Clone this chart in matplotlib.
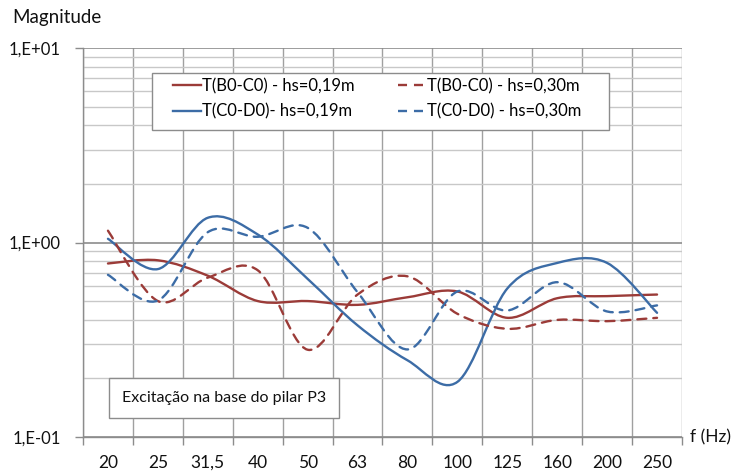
import numpy as np
import matplotlib
matplotlib.use("Agg")
import matplotlib.pyplot as plt
from matplotlib.path import Path
from matplotlib.patches import PathPatch, Rectangle
from matplotlib.lines import Line2D
from matplotlib.ticker import FixedLocator, NullFormatter

plt.rcParams['font.family'] = ['Lato', 'DejaVu Sans']
plt.rcParams['lines.scale_dashes'] = False

# frequency bands (categories on the x axis)
freqs = ['20', '25', '31,5', '40', '50', '63', '80', '100', '125', '160', '200', '250']

# values
b0c0_019 = [0.78, 0.81, 0.675, 0.50, 0.50, 0.478, 0.523, 0.56, 0.41, 0.517, 0.53, 0.54]
b0c0_030 = [1.15, 0.50, 0.66, 0.72, 0.281, 0.54, 0.67, 0.43, 0.36, 0.40, 0.394, 0.41]
c0d0_019 = [1.045, 0.73, 1.34, 1.10, 0.65, 0.375, 0.248, 0.192, 0.58, 0.785, 0.785, 0.435]
c0d0_030 = [0.682, 0.503, 1.13, 1.07, 1.19, 0.555, 0.282, 0.56, 0.447, 0.625, 0.442, 0.475]

RED = '#9B3B38'
BLUE = '#3C6CA6'
DASH = (0, (6.5, 5))
W, H = 733, 475


def smooth_path(xs, ys):
    # Excel-like smoothed line: cubic Bezier through the points, built in log space
    x = np.asarray(xs, float)
    ly = np.log10(np.asarray(ys, float))
    n = len(x)
    verts = [(x[0], ys[0])]
    codes = [Path.MOVETO]
    for i in range(n - 1):
        x0, y0 = x[max(i - 1, 0)], ly[max(i - 1, 0)]
        x3, y3 = x[min(i + 2, n - 1)], ly[min(i + 2, n - 1)]
        c1 = (x[i] + (x[i + 1] - x0) / 6, ly[i] + (ly[i + 1] - y0) / 6)
        c2 = (x[i + 1] - (x3 - x[i]) / 6, ly[i + 1] - (y3 - ly[i]) / 6)
        verts += [(c1[0], 10 ** c1[1]), (c2[0], 10 ** c2[1]), (x[i + 1], ys[i + 1])]
        codes += [Path.CURVE4] * 3
    return Path(verts, codes)


fig = plt.figure(figsize=(W / 100, H / 100), dpi=100)
ax_l, ax_r, ax_t, ax_b = 83, 682, 48, 437
fig.subplots_adjust(left=ax_l / W, right=ax_r / W, bottom=1 - ax_b / H, top=1 - ax_t / H)
ax = fig.add_subplot(111)


def axfrac(px, py):
    # pixel position in the figure -> axes fraction
    return (px - ax_l) / (ax_r - ax_l), (ax_b - py) / (ax_b - ax_t)


pos = np.arange(len(freqs))
series = [
    (b0c0_019, RED, '-', 'T(B0-C0) - hs=0,19m'),
    (c0d0_019, BLUE, '-', 'T(C0-D0)- hs=0,19m'),
    (b0c0_030, RED, DASH, 'T(B0-C0) - hs=0,30m'),
    (c0d0_030, BLUE, DASH, 'T(C0-D0) - hs=0,30m'),
]

ax.set_yscale('log')
ax.set_xlim(-0.5, len(freqs) - 0.5)
ax.set_ylim(0.1, 10)

handles = []
for vals, col, ls, lab in series:
    patch = PathPatch(smooth_path(pos, vals), facecolor='none', edgecolor=col,
                      lw=1.7, linestyle=ls, capstyle='round', zorder=3)
    ax.add_patch(patch)
    handles.append(Line2D([], [], color=col, lw=1.7, linestyle=ls, label=lab))

# axes, ticks and grid
ax.set_xticks(pos)
ax.set_xticklabels(freqs)
ax.xaxis.set_minor_locator(FixedLocator(np.arange(-0.5, len(freqs), 1)))
ax.tick_params(axis='x', which='major', length=0, pad=13, labelsize=12.5, labelcolor='#111111')
ax.tick_params(axis='x', which='minor', length=6, width=1, color='#8c8c8c')
ax.grid(True, axis='x', which='minor', color='#a0a0a0', lw=1)

ax.set_yticks([0.1, 1, 10])
ax.set_yticklabels(['1,E-01', '1,E+00', '1,E+01'])
ax.yaxis.set_minor_formatter(NullFormatter())
ax.tick_params(axis='y', which='major', length=6, width=1, color='#8c8c8c', pad=10,
               labelsize=12, labelcolor='#111111')
ax.tick_params(axis='y', which='minor', length=0)
ax.grid(True, axis='y', which='major', color='#8c8c8c', lw=1.2)
ax.grid(True, axis='y', which='minor', color='#c8c8c8', lw=1)
ax.set_axisbelow(True)

for side in ['top', 'right']:
    ax.spines[side].set_visible(False)
for side in ['left', 'bottom']:
    ax.spines[side].set_color('#8c8c8c')
    ax.spines[side].set_linewidth(1)

# legend frame drawn separately (Excel pads the sides more than the top)
fx0, fy0 = axfrac(152, 130)
fx1, fy1 = axfrac(609, 73)
ax.add_patch(Rectangle((fx0, fy0), fx1 - fx0, fy1 - fy0, transform=ax.transAxes,
                       facecolor='white', edgecolor='#8c8c8c', lw=1, zorder=4))
leg = ax.legend(handles=handles, ncol=2, loc='upper left', bbox_to_anchor=axfrac(173, 78),
                fontsize=12, frameon=False, handlelength=1.65, handletextpad=0.1,
                columnspacing=2.6, borderpad=0, borderaxespad=0, labelspacing=0.55)
leg.set_zorder(5)

tx, ty = axfrac(122, 398)
ax.text(tx, ty, 'Excitação na base do pilar P3', transform=ax.transAxes,
        fontsize=11.5, color='#111111', va='center', ha='left', zorder=5,
        bbox=dict(boxstyle='square,pad=0.8', facecolor='white', edgecolor='#8c8c8c', lw=1))

fig.text(12 / W, 1 - 17 / H, 'Magnitude', fontsize=13.5, color='#111111', va='center', ha='left')
fig.text(690 / W, 1 - 437 / H, 'f (Hz)', fontsize=12.5, color='#111111', va='center', ha='left')

fig.savefig('out.png', dpi=100)
